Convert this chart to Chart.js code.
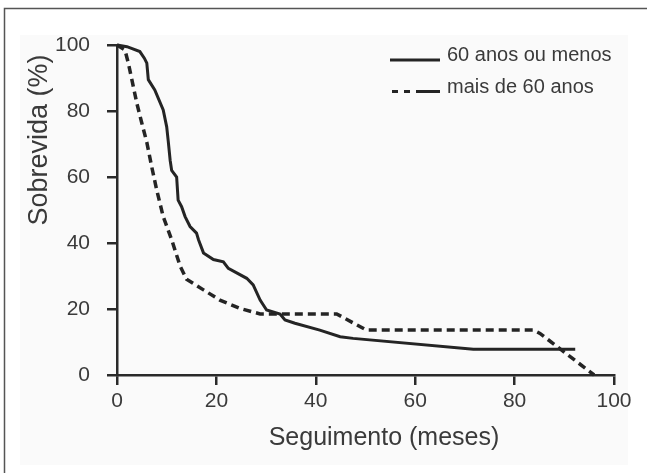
<!DOCTYPE html>
<html>
<head>
<meta charset="utf-8">
<script src="https://cdn.jsdelivr.net/npm/chart.js@4.4.1/dist/chart.umd.min.js"></script>
<style>
  body { margin: 0; background: #fff; }
</style>
</head>
<body>
<canvas id="myChart" width="647" height="473"></canvas>
<script>
// Survival curves
let youngMonths = [0, 2, 4.6, 5.5, 6, 6.3, 7.6, 9.3, 10, 10.3, 10.7, 11, 12, 12.3, 13, 13.7, 14.7, 16, 16.4, 17.4, 19.4, 21.4, 22.4, 26.1, 27.4, 28.8, 30.1, 32.8, 33.8, 35.8, 40.8, 44.9, 47.5, 71.7, 92.2];
let youngSurv = [100, 99.5, 98, 96, 94.5, 89.5, 86.4, 80.3, 75.2, 71, 65, 62, 60, 53, 51, 48, 45, 43, 41, 37, 35, 34.3, 32.3, 29.3, 27.3, 22.7, 19.7, 18.5, 16.7, 15.7, 13.6, 11.6, 11.1, 7.8, 7.8];
let oldMonths = [0, 1.6, 2.3, 3, 4, 5, 6, 7, 8, 9.3, 11, 12.7, 14, 17.4, 20.7, 24.7, 28.8, 44.2, 50.2, 83.8, 85.1, 96];
let oldSurv = [100, 98.5, 94.4, 89.4, 82.3, 76.3, 70.5, 63, 56, 48, 41, 33, 29, 25.8, 22.7, 20.2, 18.5, 18.5, 13.6, 13.6, 12.6, 0];
let seriesNames = ['60 anos ou menos', 'mais de 60 anos'];
let xTicks = [0, 20, 40, 60, 80, 100];
let yTicks = [0, 20, 40, 60, 80, 100];

const FONT = '"Liberation Sans", Arial, sans-serif';
const INK = '#242424';
const TEXT = '#3a3a3a';

function toPoints(xs, ys) {
  return xs.map((x, i) => ({ x: x, y: ys[i] }));
}

// frame, faint panel, titles and legend
const decor = {
  id: 'decor',
  beforeDraw(chart) {
    const c = chart.ctx;
    c.save();
    c.fillStyle = '#fafafa';
    c.fillRect(20, 35, 608, 430);
    c.strokeStyle = '#555';
    c.lineWidth = 1.5;
    c.beginPath();
    c.moveTo(4.5, 473);
    c.lineTo(4.5, 8.5);
    c.lineTo(647, 8.5);
    c.stroke();
    c.restore();
  },
  afterDraw(chart) {
    const c = chart.ctx;
    c.save();
    c.fillStyle = TEXT;
    c.textAlign = 'center';
    c.textBaseline = 'middle';
    c.font = '25px ' + FONT;
    c.fillText('Seguimento (meses)', 384, 438);
    c.font = '27px ' + FONT;
    c.translate(40, 140);
    c.rotate(-Math.PI / 2);
    c.fillText('Sobrevida (%)', 0, 0);
    c.restore();

    // legend
    c.save();
    c.strokeStyle = INK;
    c.lineWidth = 3;
    c.beginPath();
    c.moveTo(390, 60);
    c.lineTo(440, 60);
    c.stroke();
    c.beginPath();
    [[392, 398], [404, 410], [416, 440]].forEach(s => {
      c.moveTo(s[0], 91.5);
      c.lineTo(s[1], 91.5);
    });
    c.stroke();
    c.fillStyle = TEXT;
    c.font = '20px ' + FONT;
    c.textAlign = 'left';
    c.textBaseline = 'middle';
    c.fillText(chart.data.datasets[0].label, 447, 55);
    c.fillText(chart.data.datasets[1].label, 447, 87);
    c.restore();
  }
};

function axis(ticks, fit, pad) {
  return {
    type: 'linear',
    min: 0,
    max: 100,
    afterBuildTicks(s) { s.ticks = ticks.map(v => ({ value: v })); },
    afterFit: fit,
    ticks: { color: TEXT, font: { family: FONT, size: 21 }, padding: pad, maxRotation: 0 },
    grid: { drawOnChartArea: false, drawTicks: true, tickLength: 10, color: '#2a2a2a', lineWidth: 2.5 },
    border: { display: true, color: '#2a2a2a', width: 2.5 }
  };
}

new Chart(document.getElementById('myChart'), {
  type: 'line',
  data: {
    datasets: [
      {
        label: seriesNames[0],
        data: toPoints(youngMonths, youngSurv),
        borderColor: INK,
        borderWidth: 3,
        pointRadius: 0,
        tension: 0,
        clip: 10
      },
      {
        label: seriesNames[1],
        data: toPoints(oldMonths, oldSurv),
        borderColor: INK,
        borderWidth: 3.5,
        borderDash: [8, 5],
        pointRadius: 0,
        tension: 0,
        clip: 10
      }
    ]
  },
  options: {
    responsive: false,
    animation: false,
    layout: { padding: { left: 0, top: 45, right: 33, bottom: 0 } },
    plugins: { legend: { display: false }, tooltip: { enabled: false } },
    scales: {
      x: axis(xTicks, s => { s.height = 98; }, 4),
      y: axis(yTicks, s => { s.width = 117; }, 17)
    }
  },
  plugins: [decor]
});
</script>
</body>
</html>
